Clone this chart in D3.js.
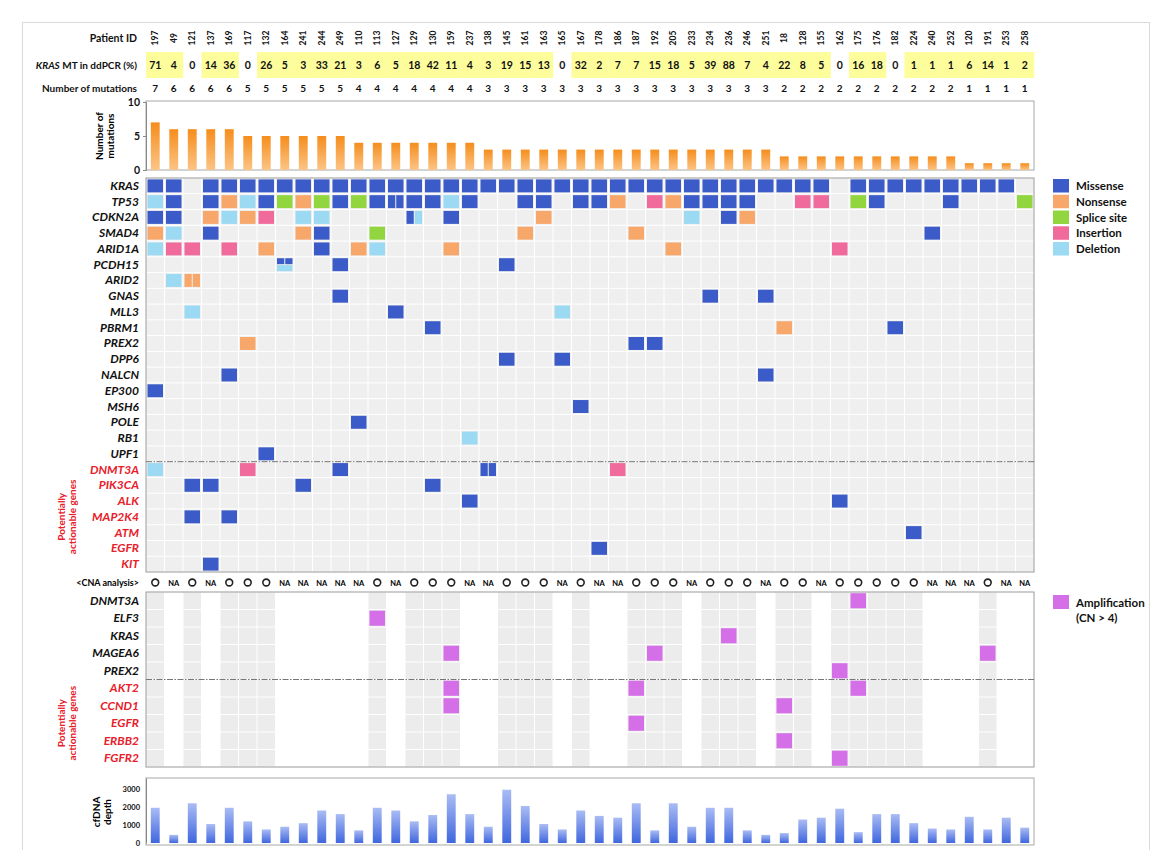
<!DOCTYPE html>
<html><head><meta charset="utf-8">
<script src="https://cdn.jsdelivr.net/npm/d3@7"></script>
<style>
body{margin:0;background:#fff;}
svg{font-family:Lato,"Open Sans",sans-serif;}
</style></head><body>
<svg id="c" width="1160" height="850"></svg>
<script>
// ---------------- DATA ----------------
const patients = ["197","49","121","137","169","117","132","164","241","244","249","110","113","127","129","130","159","237","138","145","161","163","165","167","178","186","187","192","205","233","234","236","246","251","18","128","155","162","175","176","182","224","240","252","120","191","253","258"];
const krasDdpcr = [71,4,0,14,36,0,26,5,3,33,21,3,6,5,18,42,11,4,3,19,15,13,0,32,2,7,7,15,18,5,39,88,7,4,22,8,5,0,16,18,0,1,1,1,6,14,1,2];
const mutationCount = [7,6,6,6,6,5,5,5,5,5,5,4,4,4,4,4,4,4,3,3,3,3,3,3,3,3,3,3,3,3,3,3,3,3,2,2,2,2,2,2,2,2,2,2,1,1,1,1];
const cfdnaDepth = [1950,450,2200,1050,1950,1200,750,900,1100,1800,1600,700,1950,1800,1200,1550,2700,1600,900,2950,2050,1050,750,1800,1500,1400,2200,700,2200,900,1950,1950,700,450,550,1300,1400,1900,600,1600,1600,1100,800,750,1450,750,1400,850];
const countTicks = [0,5,10];
const depthTicks = [0,1000,2000,3000];

const mutGenes = ["KRAS","TP53","CDKN2A","SMAD4","ARID1A","PCDH15","ARID2","GNAS","MLL3","PBRM1","PREX2","DPP6","NALCN","EP300","MSH6","POLE","RB1","UPF1","DNMT3A","PIK3CA","ALK","MAP2K4","ATM","EGFR","KIT"];
const actionableMutGenes = ["DNMT3A","PIK3CA","ALK","MAP2K4","ATM","EGFR","KIT"];
// patient:codes  (M missense, N nonsense, S splice site, I insertion, D deletion; several letters = several mutations in one cell)
const mutCalls = [
 "197:M 49:M 137:M 169:M 117:M 132:M 164:M 241:M 244:M 249:M 110:M 113:M 127:M 129:M 130:M 159:M 237:M 138:M 145:M 161:M 163:M 165:M 167:M 178:M 186:M 187:M 192:M 205:M 233:M 234:M 236:M 246:M 251:M 18:M 128:M 155:M 175:M 176:M 182:M 224:M 240:M 252:M 120:M 191:M 253:M",
 "197:D 49:M 137:M 169:N 117:D 132:M 164:S 241:N 244:S 249:M 110:S 113:M 127:MM 129:M 130:M 159:D 237:M 161:M 163:M 167:M 178:M 186:N 192:I 205:N 233:M 234:M 236:M 246:M 128:I 155:I 175:S 176:M 252:M 258:S",
 "197:M 49:M 137:N 169:D 117:N 132:I 241:D 244:D 129:MD 159:M 163:N 233:D 236:M 246:N",
 "197:N 49:D 137:M 241:N 244:M 113:S 161:N 187:N 240:M",
 "197:D 49:I 121:I 169:I 132:N 244:M 110:N 113:D 159:N 205:N 162:I",
 "164:MMD 249:M 145:M",
 "49:D 121:NN",
 "249:M 234:M 251:M",
 "121:D 127:M 165:D",
 "130:M 18:N 182:M",
 "117:N 187:M 192:M",
 "145:M 165:M",
 "169:M 251:M",
 "197:M",
 "167:M",
 "110:M",
 "237:D",
 "132:M",
 "197:D 117:I 249:M 138:MM 186:I",
 "121:M 137:M 241:M 130:M",
 "237:M 162:M",
 "121:M 169:M",
 "224:M",
 "178:M",
 "137:M"
];
const mutTypes = ["Missense","Nonsense","Splice site","Insertion","Deletion"];
const mutCodes = ["M","N","S","I","D"];
const mutColors = ["#3b5bc8","#f8a76b","#92d63f","#f06b9c","#9cd9f2"];

const cnaGenes = ["DNMT3A","ELF3","KRAS","MAGEA6","PREX2","AKT2","CCND1","EGFR","ERBB2","FGFR2"];
const actionableCnaGenes = ["AKT2","CCND1","EGFR","ERBB2","FGFR2"];
const cnaStatus = "O NA O NA O O O NA NA NA NA NA O NA O O O NA NA O O O NA O NA NA O O O NA O O O NA O O NA O O O O O NA NA NA O NA NA".split(" ");
const amplifications = [["DNMT3A","175"],["ELF3","113"],["KRAS","236"],["MAGEA6","159"],["MAGEA6","192"],["MAGEA6","191"],["PREX2","162"],["AKT2","159"],["AKT2","187"],["AKT2","175"],["CCND1","159"],["CCND1","18"],["EGFR","187"],["ERBB2","18"],["FGFR2","162"]];
const ampColor = "#d46fe8";

// ---------------- DRAW ----------------
const svg = d3.select("#c");
const red = "#e8202a";
const defs = svg.append("defs");
const g1 = defs.append("linearGradient").attr("id","gOr").attr("x1",0).attr("y1",0).attr("x2",0).attr("y2",1);
g1.append("stop").attr("offset","0%").attr("stop-color","#f58d1c");
g1.append("stop").attr("offset","100%").attr("stop-color","#fcc486");
const g2 = defs.append("linearGradient").attr("id","gBl").attr("x1",0).attr("y1",0).attr("x2",0).attr("y2",1);
g2.append("stop").attr("offset","0%").attr("stop-color","#aabcf4");
g2.append("stop").attr("offset","100%").attr("stop-color","#3f66de");

svg.append("rect").attr("x",22.5).attr("y",22.5).attr("width",1127).attr("height",900)
  .attr("fill","none").attr("stroke","#d9d9d9");

const x = d3.scaleBand().domain(patients).range([146,1034]);
const xb = d3.scaleBand().domain(patients).range([146,1034]).paddingInner(0.52).paddingOuter(0.26);
const bw = x.bandwidth();
const labX = 139;

// header
const hdr = svg.append("g").attr("font-weight","bold").attr("fill","#111");
hdr.append("text").attr("x",labX-2).attr("y",42).attr("text-anchor","end").attr("font-size",10.5).text("Patient ID");
const kt = hdr.append("text").attr("x",labX-2).attr("y",68.5).attr("text-anchor","end").attr("font-size",10);
kt.append("tspan").attr("font-style","italic").text("KRAS");
kt.append("tspan").text(" MT in ddPCR (%)");
hdr.append("text").attr("x",labX-2).attr("y",92).attr("text-anchor","end").attr("font-size",10).text("Number of mutations");

hdr.selectAll(".pid").data(patients).join("text")
  .attr("font-size",8.5).attr("text-anchor","middle")
  .attr("transform",d=>`translate(${x(d)+bw/2+3},38) rotate(-90)`).text(d=>d);
hdr.selectAll(".ybox").data(patients.filter((p,i)=>krasDdpcr[i]>0)).join("rect")
  .attr("x",d=>x(d)).attr("y",52).attr("width",bw+0.3).attr("height",26).attr("fill","#fdfd9c");
hdr.selectAll(".kv").data(krasDdpcr).join("text")
  .attr("x",(d,i)=>x(patients[i])+bw/2).attr("y",69).attr("text-anchor","middle").attr("font-size",10.5).text(d=>d);
hdr.selectAll(".nm").data(mutationCount).join("text")
  .attr("x",(d,i)=>x(patients[i])+bw/2).attr("y",92).attr("text-anchor","middle").attr("font-size",10).text(d=>d);

// mutation count bar chart
const yC = d3.scaleLinear().domain([0,10]).range([170,102]);
svg.append("rect").attr("x",146).attr("y",101).attr("width",888).attr("height",69).attr("fill","none").attr("stroke","#a8a8a8");
svg.append("g").selectAll("rect").data(mutationCount).join("rect")
  .attr("x",(d,i)=>xb(patients[i])).attr("width",xb.bandwidth())
  .attr("y",d=>yC(d)).attr("height",d=>yC(0)-yC(d)).attr("fill","url(#gOr)");
const axC = svg.append("g").attr("transform","translate(146,0)")
  .call(d3.axisLeft(yC).tickValues(countTicks).tickSize(3));
axC.select(".domain").attr("stroke","#888");
axC.selectAll(".tick line").attr("stroke","#888");
axC.selectAll("text").attr("font-size",10.5).attr("font-weight","bold").attr("font-family","Lato").attr("fill","#111");
const tC = svg.append("text").attr("transform","translate(104,136) rotate(-90)").attr("text-anchor","middle")
  .attr("font-size",10).attr("font-weight","bold");
tC.append("tspan").attr("x",0).attr("dy",-1).text("Number of");
tC.append("tspan").attr("x",0).attr("dy",11).text("mutations");

// oncoprint
const yM = d3.scaleBand().domain(mutGenes).range([178,572]);
const bh = yM.bandwidth();
const grid = svg.append("g");
mutGenes.forEach(g=>{
  grid.selectAll(null).data(patients).join("rect")
    .attr("x",p=>x(p)+0.5).attr("y",yM(g)+0.5).attr("width",bw-1).attr("height",bh-1).attr("fill","#efefef");
});
svg.append("rect").attr("x",146).attr("y",178).attr("width",888).attr("height",394).attr("fill","none").attr("stroke","#9a9a9a");
const colorOf = c=>mutColors[mutCodes.indexOf(c)];
const cells = [];
mutCalls.forEach((s,gi)=>{
  s.split(" ").forEach(tok=>{
    const [p,codes] = tok.split(":");
    cells.push({gene:mutGenes[gi],p,codes:codes.split("")});
  });
});
const pieces = [];
cells.forEach(c=>{
  const x0 = x(c.p)+1.5, y0 = yM(c.gene)+1.4, w = bw-3, h = bh-2.8;
  const n = c.codes.length;
  if(n===1) pieces.push({x:x0,y:y0,w:w,h:h,code:c.codes[0]});
  else if(n===2){
    const hw=(w-1)/2;
    pieces.push({x:x0,y:y0,w:hw,h:h,code:c.codes[0]});
    pieces.push({x:x0+hw+1,y:y0,w:hw,h:h,code:c.codes[1]});
  } else {
    const hw=(w-1)/2, hh=(h-1)/2;
    pieces.push({x:x0,y:y0,w:hw,h:hh,code:c.codes[0]});
    pieces.push({x:x0+hw+1,y:y0,w:hw,h:hh,code:c.codes[1]});
    pieces.push({x:x0,y:y0+hh+1,w:w,h:hh,code:c.codes[2]});
  }
});
svg.append("g").selectAll("rect").data(pieces).join("rect")
  .attr("x",d=>d.x).attr("y",d=>d.y).attr("width",d=>d.w).attr("height",d=>d.h).attr("fill",d=>colorOf(d.code));
const dashY = yM("DNMT3A");
svg.append("line").attr("x1",146).attr("x2",1034).attr("y1",dashY).attr("y2",dashY)
  .attr("stroke","#666").attr("stroke-width",0.9).attr("stroke-dasharray","6,1.5,1.5,1.5");
svg.append("g").selectAll("text").data(mutGenes).join("text")
  .attr("x",labX).attr("y",g=>yM(g)+bh/2+4).attr("text-anchor","end")
  .attr("font-size",12).attr("font-weight","bold").attr("font-style","italic")
  .attr("fill",g=>actionableMutGenes.includes(g)?red:"#111").text(g=>g);
function actionLabel(cy){
  const t = svg.append("text").attr("transform",`translate(66,${cy}) rotate(-90)`).attr("text-anchor","middle")
    .attr("font-size",10).attr("font-weight","bold").attr("fill",red);
  t.append("tspan").attr("x",0).attr("dy",-1).text("Potentially");
  t.append("tspan").attr("x",0).attr("dy",11).text("actionable genes");
}
actionLabel((yM("DNMT3A")+572)/2);

// legend
const lg = svg.append("g");
mutTypes.forEach((t,i)=>{
  const yy = yM(mutGenes[i]);
  lg.append("rect").attr("x",1053).attr("y",yy+1).attr("width",16).attr("height",13.5).attr("fill",mutColors[i]);
  lg.append("text").attr("x",1076).attr("y",yy+12).attr("font-size",11.5).attr("font-weight","bold").attr("fill","#111").text(t);
});

// CNA
svg.append("text").attr("x",labX).attr("y",586).attr("text-anchor","end").attr("font-size",9).attr("font-weight","bold").text("<CNA analysis>");
const cg = svg.append("g");
patients.forEach((p,i)=>{
  if(cnaStatus[i]==="O"){
    cg.append("circle").attr("cx",x(p)+bw/2).attr("cy",582.5).attr("r",3.4).attr("fill","none").attr("stroke","#222").attr("stroke-width",1.6);
  } else {
    cg.append("text").attr("x",x(p)+bw/2).attr("y",585.5).attr("text-anchor","middle").attr("font-size",7.5).attr("font-weight","bold").text("NA");
  }
});
const yN = d3.scaleBand().domain(cnaGenes).range([592,767]);
const bh2 = yN.bandwidth();
cnaGenes.forEach(g=>{
  cg.selectAll(null).data(patients.filter((p,i)=>cnaStatus[i]==="O")).join("rect")
    .attr("x",p=>x(p)+0.5).attr("y",yN(g)+0.5).attr("width",bw-1).attr("height",bh2-1).attr("fill","#ececec");
});
svg.append("rect").attr("x",146).attr("y",592).attr("width",888).attr("height",175).attr("fill","none").attr("stroke","#9a9a9a");
svg.append("g").selectAll("rect").data(amplifications).join("rect")
  .attr("x",d=>x(d[1])+1.5).attr("y",d=>yN(d[0])+1.2).attr("width",bw-3).attr("height",bh2-2.4).attr("fill",ampColor);
const dashY2 = yN("AKT2");
svg.append("line").attr("x1",146).attr("x2",1034).attr("y1",dashY2).attr("y2",dashY2)
  .attr("stroke","#666").attr("stroke-width",0.9).attr("stroke-dasharray","6,1.5,1.5,1.5");
svg.append("g").selectAll("text").data(cnaGenes).join("text")
  .attr("x",labX).attr("y",g=>yN(g)+bh2/2+4).attr("text-anchor","end")
  .attr("font-size",12).attr("font-weight","bold").attr("font-style","italic")
  .attr("fill",g=>actionableCnaGenes.includes(g)?red:"#111").text(g=>g);
actionLabel((yN("AKT2")+767)/2);
lg.append("rect").attr("x",1053).attr("y",595).attr("width",16).attr("height",14).attr("fill",ampColor);
lg.append("text").attr("x",1076).attr("y",607).attr("font-size",11.5).attr("font-weight","bold").attr("fill","#111").text("Amplification");
lg.append("text").attr("x",1076).attr("y",622).attr("font-size",11.5).attr("font-weight","bold").attr("fill","#111").text("(CN > 4)");

// cfDNA depth
const yD = d3.scaleLinear().domain([0,3600]).range([843,778]);
svg.append("rect").attr("x",146).attr("y",778).attr("width",888).attr("height",67).attr("fill","none").attr("stroke","#a8a8a8");
svg.append("g").selectAll("rect").data(cfdnaDepth).join("rect")
  .attr("x",(d,i)=>xb(patients[i])).attr("width",xb.bandwidth())
  .attr("y",d=>yD(d)).attr("height",d=>yD(0)-yD(d)).attr("fill","url(#gBl)");
const axD = svg.append("g").attr("transform","translate(146,0)")
  .call(d3.axisLeft(yD).tickValues(depthTicks).tickFormat(d3.format("d")).tickSize(0).tickPadding(6));
axD.select(".domain").attr("stroke","#888");
axD.selectAll("text").attr("font-size",7.5).attr("font-weight","bold").attr("font-family","Lato").attr("fill","#111");
const tD = svg.append("text").attr("transform","translate(101,812) rotate(-90)").attr("text-anchor","middle")
  .attr("font-size",10).attr("font-weight","bold");
tD.append("tspan").attr("x",0).attr("dy",-1).text("cfDNA");
tD.append("tspan").attr("x",0).attr("dy",11).text("depth");
</script>
</body></html>
